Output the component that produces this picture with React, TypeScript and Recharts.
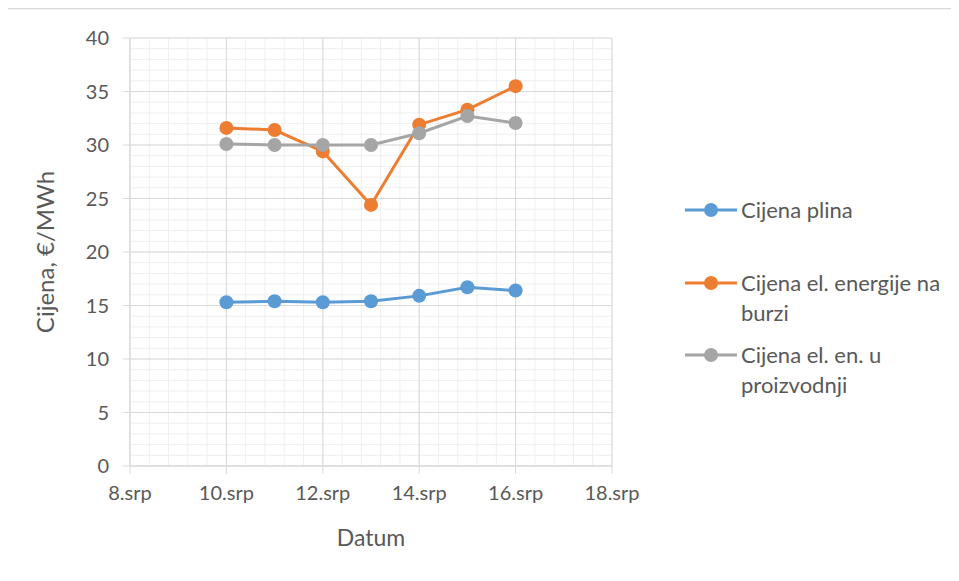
import React from 'react';
import {LineChart, Line, XAxis, YAxis, CartesianGrid} from 'recharts';

const days = [10, 11, 12, 13, 14, 15, 16];
const gasPrice = [15.3, 15.4, 15.3, 15.4, 15.9, 16.7, 16.4];
const exchangePrice = [31.6, 31.4, 29.4, 24.4, 31.9, 33.3, 35.5];
const productionPrice = [30.1, 30.0, 30.0, 30.0, 31.1, 32.7, 32.05];

const seriesNames = ['Cijena plina', 'Cijena el. energije na burzi', 'Cijena el. en. u proizvodnji'];
const seriesColors = ['#5B9BD5', '#ED7D31', '#A5A5A5'];

const xDomain = [8, 18];
const yDomain = [0, 40];
const xTicks = [8, 10, 12, 14, 16, 18];
const yTicks = [0, 5, 10, 15, 20, 25, 30, 35, 40];
const minorXTicks = [8, 8.4, 8.8, 9.2, 9.6, 10, 10.4, 10.8, 11.2, 11.6, 12, 12.4, 12.8, 13.2, 13.6, 14, 14.4, 14.8, 15.2, 15.6, 16, 16.4, 16.8, 17.2, 17.6, 18];
const minorYTicks = [0, 1, 2, 3, 4, 5, 6, 7, 8, 9, 10, 11, 12, 13, 14, 15, 16, 17, 18, 19, 20, 21, 22, 23, 24, 25, 26, 27, 28, 29, 30, 31, 32, 33, 34, 35, 36, 37, 38, 39, 40];

const data = days.map((d, i) => ({
    day: d,
    plin: gasPrice[i],
    burza: exchangePrice[i],
    proizvodnja: productionPrice[i],
}));

const keys = ['plin', 'burza', 'proizvodnja'];
const FONT = 'Lato, "Open Sans", sans-serif';
const TEXT = '#595959';

// minor grid positions, from the axis scale when available
const minorX = ({xAxis, offset}: any) =>
    minorXTicks.map((t) =>
        typeof xAxis?.scale === 'function'
            ? xAxis.scale(t)
            : offset.left + ((t - xDomain[0]) / (xDomain[1] - xDomain[0])) * offset.width
    );
const minorY = ({yAxis, offset}: any) =>
    minorYTicks.map((t) =>
        typeof yAxis?.scale === 'function'
            ? yAxis.scale(t)
            : offset.top + (1 - (t - yDomain[0]) / (yDomain[1] - yDomain[0])) * offset.height
    );

const LegendBox = () => (
    <div style={{position: 'absolute', left: 683, top: 195, fontFamily: FONT, fontSize: 22, color: TEXT}}>
        {seriesNames.map((name, i) => (
            <div key={name} style={{display: 'flex', alignItems: 'flex-start', height: 72.5}}>
                <svg width={58} height={30} style={{flexShrink: 0}}>
                    <line x1={2} y1={15} x2={54} y2={15} stroke={seriesColors[i]} strokeWidth={3} />
                    <circle cx={28} cy={15} r={7} fill={seriesColors[i]} />
                </svg>
                <div style={{width: 215, lineHeight: '30px'}}>{name}</div>
            </div>
        ))}
    </div>
);

export default function App() {
    return (
        <div style={{position: 'relative', margin: -8, width: 959, height: 581, background: '#fff', overflow: 'hidden'}}>
            <svg width={959} height={581} style={{position: 'absolute', left: 0, top: 0}}>
                <rect x={5.5} y={8.5} width={980} height={567} fill="#fff" stroke="#d9d9d9" strokeWidth={1.5} />
            </svg>
            <div style={{position: 'absolute', left: 0, top: 0}}>
                <LineChart width={959} height={581} data={data} margin={{top: 38, right: 347, left: 60, bottom: 85}}>
                    <CartesianGrid stroke="#efefef" strokeWidth={1} verticalCoordinatesGenerator={minorX} horizontalCoordinatesGenerator={minorY} />
                    <CartesianGrid stroke="#d9d9d9" strokeWidth={1} />
                    <XAxis
                        dataKey="day"
                        type="number"
                        domain={xDomain}
                        ticks={xTicks}
                        height={30}
                        tickSize={8}
                        tickMargin={12}
                        tickFormatter={(v: number) => `${v}.srp`}
                        stroke="#d9d9d9"
                        tick={{fill: TEXT, fontSize: 20, fontFamily: FONT}}
                        label={{
                            content: ({viewBox}: any) => (
                                <text x={viewBox.x + viewBox.width / 2} y={546} textAnchor="middle" fill={TEXT} fontSize={23} fontFamily={FONT}>Datum</text>
                            ),
                        }}
                    />
                    <YAxis
                        type="number"
                        domain={yDomain}
                        ticks={yTicks}
                        width={70}
                        tickSize={7}
                        tickMargin={14}
                        stroke="#d9d9d9"
                        tick={{fill: TEXT, fontSize: 20, fontFamily: FONT}}
                        label={{
                            content: ({viewBox}: any) => (
                                <text
                                    x={44}
                                    y={viewBox.y + viewBox.height / 2}
                                    transform={`rotate(-90 44 ${viewBox.y + viewBox.height / 2})`}
                                    textAnchor="middle"
                                    dominantBaseline="central"
                                    fill={TEXT}
                                    fontSize={24}
                                    fontFamily={FONT}
                                >Cijena, €/MWh</text>
                            ),
                        }}
                    />
                    {keys.map((k, i) => (
                        <Line
                            key={k}
                            dataKey={k}
                            name={seriesNames[i]}
                            stroke={seriesColors[i]}
                            strokeWidth={3}
                            dot={{r: 7, fill: seriesColors[i], stroke: seriesColors[i], strokeWidth: 0}}
                            activeDot={false}
                            isAnimationActive={false}
                        />
                    ))}
                </LineChart>
            </div>
            <LegendBox />
        </div>
    );
}
